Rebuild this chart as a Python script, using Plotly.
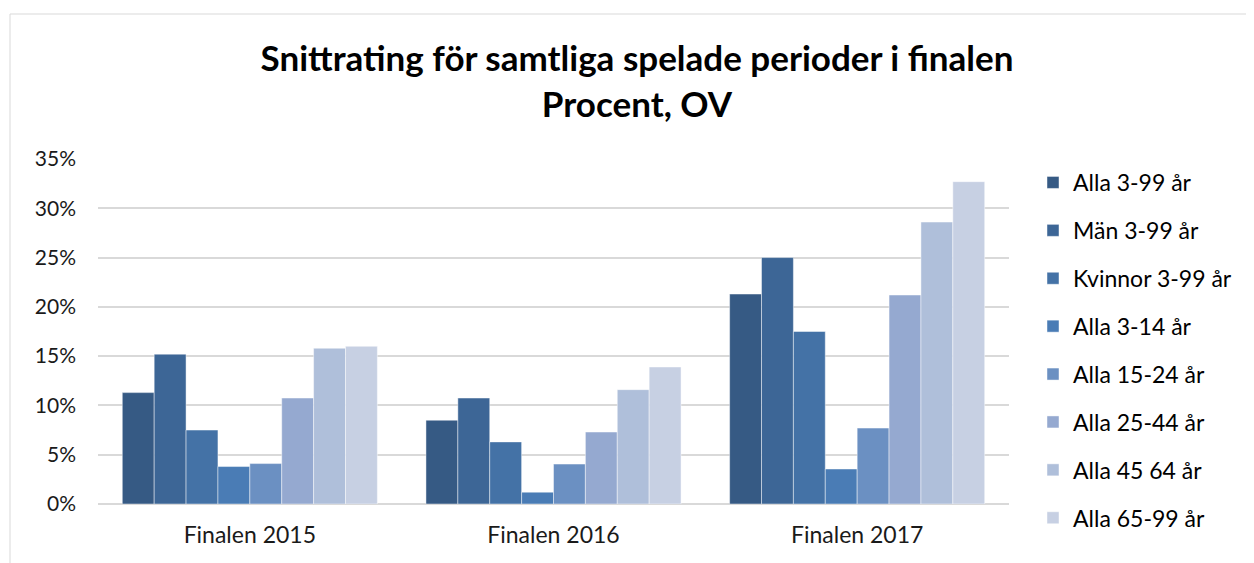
import plotly.graph_objects as go

categories = ["Finalen 2015", "Finalen 2016", "Finalen 2017"]
series_names = ["Alla 3-99 år", "Män 3-99 år", "Kvinnor 3-99 år", "Alla 3-14 år",
                "Alla 15-24 år", "Alla 25-44 år", "Alla 45 64 år", "Alla 65-99 år"]
alla_3_99 = [0.113, 0.085, 0.213]
man_3_99 = [0.152, 0.1075, 0.250]
kvinnor_3_99 = [0.075, 0.063, 0.175]
alla_3_14 = [0.038, 0.012, 0.0355]
alla_15_24 = [0.041, 0.0405, 0.077]
alla_25_44 = [0.1075, 0.073, 0.212]
alla_45_64 = [0.158, 0.116, 0.286]
alla_65_99 = [0.160, 0.139, 0.327]
values = [alla_3_99, man_3_99, kvinnor_3_99, alla_3_14,
          alla_15_24, alla_25_44, alla_45_64, alla_65_99]
colors = ["#365A84", "#3D6696", "#4472A6", "#4A7CB5",
          "#6B90C2", "#95A9D0", "#AFBFDA", "#C7D0E3"]

fig = go.Figure()
for i, (name, vals) in enumerate(zip(series_names, values)):
    fig.add_trace(go.Bar(
        x=categories, y=vals, name=name, legendgroup=name,
        marker=dict(color=colors[i], line=dict(color="rgba(255,255,255,0.45)", width=1)),
    ))

W, H = 1254, 563
l, t = 90, 151
pw, ph = 911, 345
r = W - l - pw
b = H - t - ph
FONT = "Lato, Open Sans, sans-serif"

fig.update_layout(
    width=W, height=H,
    margin=dict(l=l, r=r, t=t, b=b),
    paper_bgcolor="white", plot_bgcolor="white",
    barmode="group", bargap=0.16, bargroupgap=0,
    font=dict(family=FONT, color="#1a1a1a"),
    title=dict(
        text="<b>Snittrating för samtliga spelade perioder i finalen<br>Procent, OV</b>",
        x=629 / W, xanchor="center", y=1 - 63 / H, yanchor="middle",
        font=dict(size=35, color="#000000", family=FONT),
    ),
    yaxis=dict(
        range=[0, 0.35], tick0=0, dtick=0.05, tickformat=".0%",
        showgrid=True, gridcolor="#d9d9d9", gridwidth=1.5,
        zeroline=True, zerolinecolor="#d9d9d9", zerolinewidth=1.5,
        showline=False, ticks="", tickfont=dict(size=21, color="#1a1a1a"),
        ticklabelstandoff=21,
    ),
    xaxis=dict(
        showline=False, ticks="", tickfont=dict(size=23, color="#1a1a1a"),
        ticklabelstandoff=15,
    ),
    legend=dict(
        x=(1025 - l) / pw, xanchor="left", y=(H - b - 153) / ph, yanchor="top",
        font=dict(size=23, color="#000000"),
        tracegroupgap=15, itemwidth=30, bgcolor="rgba(0,0,0,0)",
        traceorder="grouped", maxheight=800,
    ),
    showlegend=True,
    shapes=[dict(
        type="rect", xref="paper", yref="paper",
        x0=(2 - l) / pw, x1=(W + 20 - l) / pw,
        y0=-(b + 20) / ph, y1=(H - b - 6) / ph,
        line=dict(color="#d9d9d9", width=1), fillcolor="rgba(0,0,0,0)", layer="below",
    )],
)

fig.write_html("out.html")
